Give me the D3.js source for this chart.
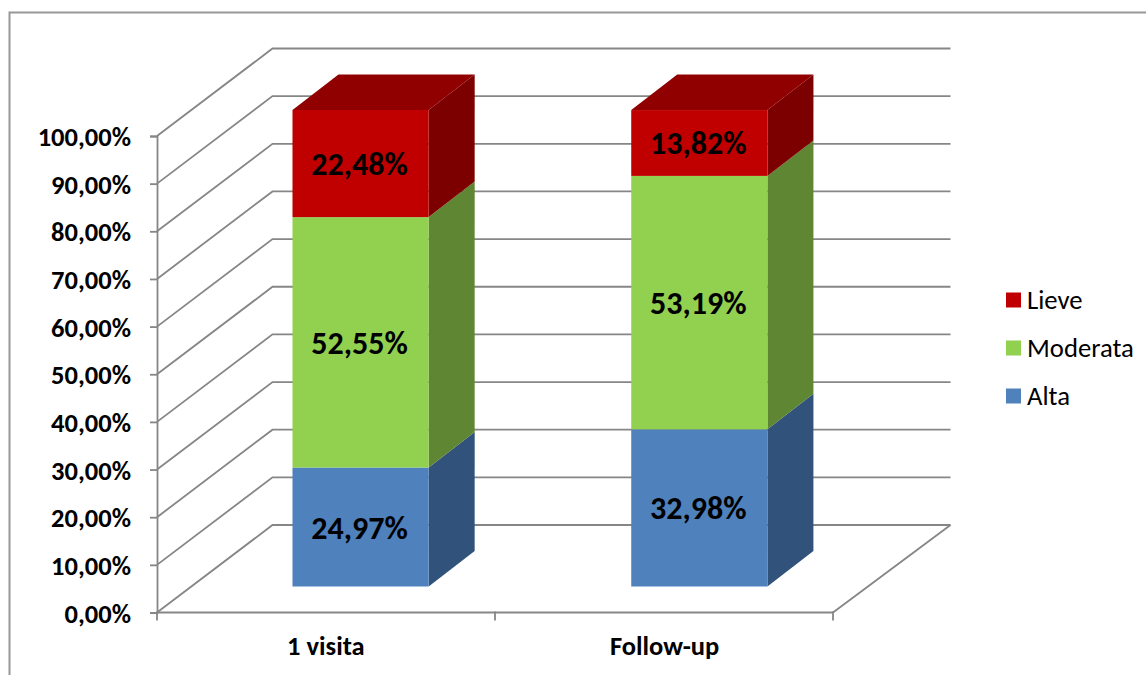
<!DOCTYPE html>
<html><head><meta charset="utf-8">
<script src="https://cdn.jsdelivr.net/npm/d3@7/dist/d3.min.js"></script>
<style>
html,body{margin:0;padding:0;background:#fff;overflow:hidden}
text{font-family:Carlito,Lato,"Noto Sans",sans-serif;fill:#000}
</style></head><body>
<svg id="c" width="1146" height="675"></svg>
<script>
const categories = ["1 visita", "Follow-up"];
const seriesNames = ["Alta", "Moderata", "Lieve"];
const alta = [24.97, 32.98];
const moderata = [52.55, 53.19];
const lieve = [22.48, 13.82];
const yTicks = [0,10,20,30,40,50,60,70,80,90,100];
const fronts = ["#4f81bd", "#92d050", "#c00000"];
const sides = ["#31537b", "#5f8632", "#7d0000"];
const tops = ["#3f6797", "#75a640", "#900000"];

const svg = d3.select("#c");
const grey = "#868686";
const y = d3.scaleLinear().domain([0,100]).range([612.5,136]);
const x = d3.scaleBand().domain(categories).range([156.5,834]).paddingInner(0.598).paddingOuter(0.299);
const depth = {dx:115.5, dy:-87.5};
const bar = {ox:34.7, oy:-26, dx:46, dy:-35.5};

// chart frame
svg.append("path").attr("d","M9.5,675V12.5H1146").attr("fill","none").attr("stroke",grey).attr("stroke-width",2).attr("opacity",.85);

// walls
const gw = svg.append("g").attr("fill","none").attr("stroke",grey).attr("stroke-width",1.8);
yTicks.forEach(t=>{
  const p = d3.path(); const v=y(t);
  p.moveTo(157,v); p.lineTo(157+depth.dx,v+depth.dy); p.lineTo(950.5,v+depth.dy);
  gw.append("path").attr("d",p.toString());
});
const fl = d3.path(); fl.moveTo(833,y(0)); fl.lineTo(950.5,y(0)+depth.dy);
gw.append("path").attr("d",fl.toString());

// axes
const loc = d3.formatLocale({decimal:",",thousands:".",grouping:[3],currency:["","€"]});
const gy = svg.append("g").attr("transform","translate(157,0)")
  .call(d3.axisLeft(y).tickValues(yTicks).tickSize(7).tickPadding(19).tickFormat(d=>loc.format(".2f")(d)+"%"));
gy.selectAll("path,line").attr("stroke",grey).attr("stroke-width",1.8);
gy.selectAll("text").attr("font-size",26.5).attr("font-weight",700).attr("font-family","Carlito,Lato,sans-serif").attr("dy","0.36em");

const gx = svg.append("g").attr("transform",`translate(0,${y(0)})`)
  .call(d3.axisBottom(x).tickSize(0).tickPadding(24));
gx.select("path").remove();
gx.selectAll("text").attr("font-size",26.5).attr("font-weight",700).attr("font-family","Carlito,Lato,sans-serif");
[157,495,833].forEach(v=>svg.append("line").attr("x1",v).attr("x2",v).attr("y1",y(0)-1).attr("y2",y(0)+8).attr("stroke",grey).attr("stroke-width",1.8));
svg.append("line").attr("x1",157).attr("x2",833).attr("y1",y(0)).attr("y2",y(0)).attr("stroke",grey).attr("stroke-width",1.8);

// stacked bars
const rows = categories.map((c,i)=>({cat:c,Alta:alta[i],Moderata:moderata[i],Lieve:lieve[i]}));
const stacked = d3.stack().keys(seriesNames)(rows);
const fmt = d=>loc.format(".2f")(d)+"%";
const poly = pts=>pts.map(p=>p.join(",")).join(" ");
stacked.forEach((s,si)=>{
  const g = svg.append("g");
  s.forEach(d=>{
    const x0 = x(d.data.cat)+bar.ox, x1 = x0+x.bandwidth();
    const yb = y(d[0])+bar.oy, yt = y(d[1])+bar.oy;
    g.append("polygon").attr("fill",sides[si]).attr("points",poly([[x1,yb],[x1+bar.dx,yb+bar.dy],[x1+bar.dx,yt+bar.dy],[x1,yt]]));
    if(si===seriesNames.length-1)
      g.append("polygon").attr("fill",tops[si]).attr("points",poly([[x0,yt],[x0+bar.dx,yt+bar.dy],[x1+bar.dx,yt+bar.dy],[x1,yt]]));
    g.append("rect").attr("x",x0).attr("y",yt).attr("width",x1-x0).attr("height",yb-yt).attr("fill",fronts[si]);
  });
});
stacked.forEach(s=>{
  s.forEach(d=>{
    svg.append("text").attr("x",x(d.data.cat)+bar.ox+x.bandwidth()/2-1)
      .attr("y",(y(d[0])+y(d[1]))/2+bar.oy).attr("dy","0.36em")
      .attr("text-anchor","middle").attr("font-size",32).attr("font-weight",700)
      .text(fmt(d[1]-d[0]));
  });
});

// legend
const legY = d3.scalePoint().domain(["Lieve","Moderata","Alta"]).range([300,396]);
const legC = d3.scaleOrdinal().domain(seriesNames).range(fronts);
legY.domain().forEach(n=>{
  svg.append("rect").attr("x",1006).attr("y",legY(n)-7.5).attr("width",15).attr("height",15).attr("fill",legC(n));
  svg.append("text").attr("x",1027).attr("y",legY(n)-1).attr("dy","0.36em").attr("font-size",26.7).text(n);
});
</script></body></html>
